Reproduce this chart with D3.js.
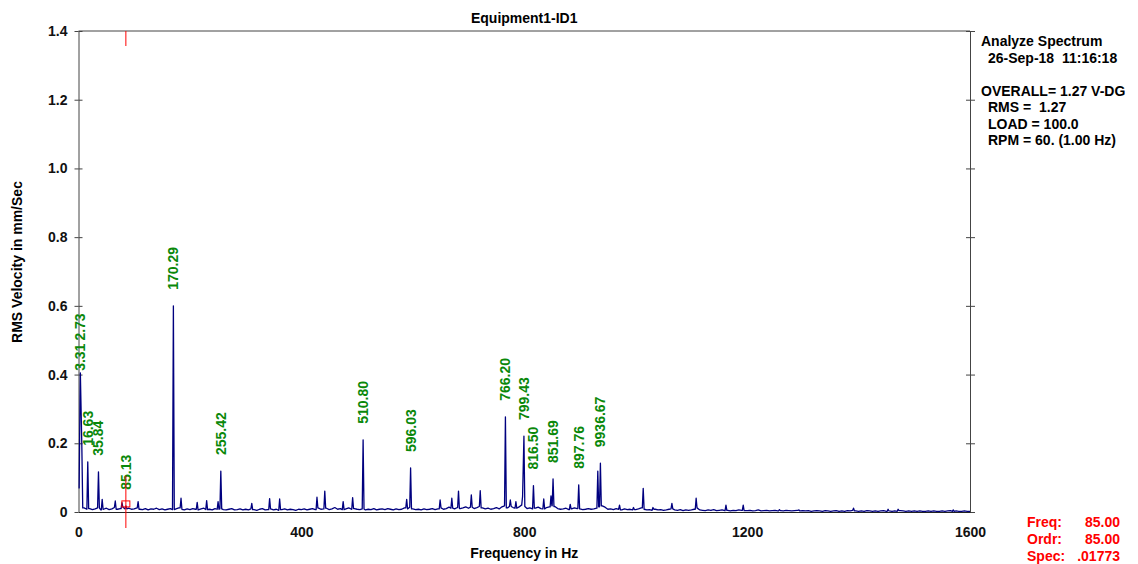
<!DOCTYPE html>
<html>
<head>
<meta charset="utf-8">
<script src="https://cdn.jsdelivr.net/npm/d3@7"></script>
<style>
  html, body { margin: 0; padding: 0; background: #fff; }
  svg { display: block; font-family: Arial, "Liberation Sans", sans-serif; }
  text { white-space: pre; }
</style>
</head>
<body>
<svg id="chart" width="1138" height="564"></svg>
<script>
// ---- spectrum data (Hz, RMS velocity in mm/Sec) ----
const peakHz = [2.73, 3.31, 6, 16.63, 35.84, 42.5, 66, 78, 85.13, 107, 170.29, 184, 213, 230, 250.5,
  255.42, 311, 343, 361, 428, 442, 475, 492, 510.80, 589, 596.03, 649, 670, 682, 705, 721, 766.20,
  775, 785, 797, 799.43, 816.50, 835, 848, 851.69, 882.5, 897.76, 932, 936.67, 971, 996, 1013.5,
  1031, 1065, 1108.5, 1162, 1193, 1258, 1293, 1391, 1453, 1471, 1570];
const peakAmp = [0.33, 0.405, 0.19, 0.146, 0.117, 0.037, 0.032, 0.027, 0.018, 0.03, 0.60, 0.04, 0.028,
  0.033, 0.03, 0.119, 0.025, 0.039, 0.038, 0.043, 0.061, 0.03, 0.042, 0.21, 0.037, 0.128, 0.035, 0.04,
  0.061, 0.05, 0.062, 0.277, 0.035, 0.03, 0.045, 0.221, 0.077, 0.038, 0.047, 0.096, 0.022, 0.079,
  0.119, 0.142, 0.02, 0.013, 0.069, 0.013, 0.025, 0.04, 0.02, 0.02, 0.007, 0.006, 0.011, 0.008,
  0.008, 0.006];

// noise floor, one value every 5 Hz from 0 to 1600 Hz, in thousandths of mm/Sec
const floorStepHz = 5;
const floorThousandths = [
  70, 260, 12, 8, 10, 7, 9, 12, 6, 8, 11, 7, 9, 13, 8, 10, 14, 9, 11, 8,
  9, 12, 8, 7, 10, 6, 9, 8, 11, 7, 9, 6, 8, 10, 7, 9, 12, 8, 6, 9,
  7, 10, 8, 6, 9, 11, 7, 8, 6, 10, 8, 9, 7, 6, 8, 10, 6, 7, 9, 6,
  8, 6, 9, 7, 5, 8, 10, 6, 7, 9, 6, 8, 5, 7, 9, 6, 8, 7, 5, 8,
  7, 9, 6, 8, 10, 7, 12, 8, 9, 11, 7, 9, 13, 8, 10, 7, 9, 12, 8, 10,
  8, 7, 9, 6, 8, 7, 10, 6, 8, 9, 7, 10, 8, 6, 9, 7, 8, 12, 9, 14,
  9, 7, 8, 6, 9, 7, 8, 10, 7, 9, 12, 8, 10, 14, 11, 9, 13, 10, 12, 15,
  11, 14, 10, 13, 16, 12, 9, 11, 8, 10, 13, 9, 15, 18, 12, 16, 13, 11, 14, 20,
  16, 10, 12, 9, 11, 14, 10, 9, 13, 15, 18, 16, 10, 8, 9, 11, 7, 9, 12, 10,
  9, 7, 8, 10, 8, 9, 11, 15, 18, 14, 8, 9, 7, 10, 8, 6, 9, 7, 8, 6,
  7, 9, 12, 8, 6, 7, 5, 8, 6, 7, 5, 6, 8, 9, 6, 5, 7, 4, 6, 5,
  6, 8, 12, 6, 5, 4, 6, 5, 7, 4, 5, 6, 4, 5, 3, 5, 4, 6, 5, 4,
  4, 5, 3, 4, 6, 3, 4, 5, 3, 4, 5, 3, 4, 3, 5, 4, 3, 4, 5, 3,
  4, 3, 4, 2, 3, 4, 3, 2, 4, 3, 2, 3, 4, 2, 3, 2, 4, 3, 5, 3,
  2, 3, 2, 4, 3, 2, 3, 2, 3, 4, 2, 3, 2, 3, 2, 4, 3, 2, 3, 2,
  3, 2, 3, 2, 2, 3, 2, 3, 2, 2, 3, 2, 3, 4, 2, 3, 2, 2, 3, 2,
  2
];

// peak markers
const labelText = ["3.31", "2.73", "16.63", "35.84", "85.13", "170.29", "255.42", "510.80", "596.03",
  "766.20", "799.43", "816.50", "851.69", "897.76", "9936.67"];
const labelHz = [3.31, 2.73, 16.63, 35.84, 85.13, 170.29, 255.42, 510.80, 596.03,
  766.20, 799.43, 816.50, 851.69, 897.76, 936.67];

// axes
const yTicks = [0, 0.2, 0.4, 0.6, 0.8, 1.0, 1.2, 1.4];
const xTicks = [0, 400, 800, 1200, 1600];

// cursor readout
const cursorHz = 85.00;
const cursorOrder = 85.00;
const cursorSpec = 0.01773;
const readoutNames = ["Freq:", "Ordr:", "Spec:"];
const readoutValues = ["85.00", "85.00", ".01773"];

// header block
const infoText = ["Analyze Spectrum", "26-Sep-18  11:16:18", "", "OVERALL= 1.27 V-DG",
  "RMS =  1.27", "LOAD = 100.0", "RPM = 60. (1.00 Hz)"];

const chartTitle = "Equipment1-ID1";
const xTitle = "Frequency in Hz";
const yTitle = "RMS Velocity in mm/Sec";

// ---- drawing ----
const svg = d3.select("#chart");
const plotL = 78.5, plotR = 970, plotT = 31, plotB = 512;
const frameColor = "#444";
const lineColor = "#00007f";
const labelColor = "#0a880a";
const cursorColor = "#ff0000";

const x = d3.scaleLinear().domain([0, 1600]).range([plotL, plotR]);
const y = d3.scaleLinear().domain([0, 1.4]).range([plotB, plotT]);

// left axis with ticks crossing the frame
const yAxis = svg.append("g")
  .attr("transform", `translate(${plotL},0)`)
  .call(d3.axisLeft(y).tickValues(yTicks).tickSizeInner(4).tickSizeOuter(0).tickPadding(7)
    .tickFormat(d => d === 0 ? "0" : d3.format(".1f")(d)));
yAxis.select(".domain").attr("stroke", frameColor);
yAxis.selectAll(".tick line").attr("stroke", frameColor).attr("x2", -4);
yAxis.selectAll(".tick").append("line").attr("x1", 0).attr("x2", 4).attr("stroke", frameColor);
yAxis.selectAll(".tick text").attr("font-size", 14).attr("font-weight", "bold").attr("fill", "#111")
  .attr("font-family", "Arial, 'Liberation Sans', sans-serif");

// right axis
const yAxisR = svg.append("g")
  .attr("transform", `translate(${plotR},0)`)
  .call(d3.axisRight(y).tickValues(yTicks).tickSizeInner(5).tickSizeOuter(0).tickFormat(""));
yAxisR.select(".domain").attr("stroke", frameColor);
yAxisR.selectAll(".tick line").attr("stroke", frameColor);
yAxisR.selectAll(".tick").append("line").attr("x1", 0).attr("x2", -4).attr("stroke", frameColor);

// top border
svg.append("line").attr("x1", plotL).attr("x2", plotR).attr("y1", plotT).attr("y2", plotT)
  .attr("stroke", frameColor);

// bottom axis
const xAxis = svg.append("g")
  .attr("transform", `translate(0,${plotB})`)
  .call(d3.axisBottom(x).tickValues(xTicks).tickSize(0).tickPadding(15).tickFormat(d3.format("d")));
xAxis.select(".domain").attr("stroke", "#222");
xAxis.selectAll(".tick text").attr("font-size", 14).attr("font-weight", "bold").attr("fill", "#111")
  .attr("font-family", "Arial, 'Liberation Sans', sans-serif");

// titles
svg.append("text").attr("x", (plotL + plotR) / 2).attr("y", 23).attr("text-anchor", "middle")
  .attr("font-size", 14).attr("font-weight", "bold").text(chartTitle);
svg.append("text").attr("x", (plotL + plotR) / 2).attr("y", 558).attr("text-anchor", "middle")
  .attr("font-size", 14).attr("font-weight", "bold").text(xTitle);
svg.append("text").attr("transform", "translate(22,262) rotate(-90)").attr("text-anchor", "middle")
  .attr("font-size", 14).attr("font-weight", "bold").text(yTitle);

// spectrum trace: each peak is one narrow spectral line standing on the noise floor
const lineHalfWidthHz = 1.6;
const floorAt = hz => floorThousandths[Math.min(floorThousandths.length - 1,
  Math.max(0, Math.round(hz / floorStepHz)))] / 1000;
const nearPeak = (hz, self) => peakHz.some(h => h !== self && Math.abs(h - hz) < lineHalfWidthHz);

const tracePts = [];
floorThousandths.forEach((v, i) => {
  const hz = i * floorStepHz;
  if (!peakHz.some(h => Math.abs(h - hz) < lineHalfWidthHz)) tracePts.push([hz, v / 1000]);
});
peakHz.forEach((hz, i) => {
  tracePts.push([hz, peakAmp[i]]);
  [-1, 1].forEach(side => {
    const foot = hz + side * lineHalfWidthHz;
    if (foot >= 0 && foot <= 1600 && !nearPeak(foot, hz)) tracePts.push([foot, floorAt(foot)]);
  });
});
tracePts.sort((a, b) => a[0] - b[0]);

svg.append("path")
  .datum(tracePts)
  .attr("fill", "none")
  .attr("stroke", lineColor)
  .attr("stroke-width", 1.3)
  .attr("stroke-linejoin", "round")
  .attr("d", d3.line().x(d => x(d[0])).y(d => y(d[1])));

// peak frequency markers, written vertically above each peak
const labelsG = svg.append("g");
let prev = null;
labelText.forEach((t, i) => {
  const hz = labelHz[i];
  const amp = peakAmp[peakHz.indexOf(hz)];
  const px = x(hz);
  const txt = labelsG.append("text")
    .attr("fill", labelColor)
    .attr("font-size", 14)
    .attr("font-weight", "bold")
    .attr("dy", "0.35em")
    .text(t);
  const len = txt.node().getComputedTextLength();
  let base = y(amp) - (t === "3.31" ? 2 : 16);
  // markers on the same spectral line are stacked one above the other
  if (prev && Math.abs(prev.x - px) < 3) base = Math.min(base, prev.top - 3);
  txt.attr("transform", `translate(${px},${base}) rotate(-90)`);
  prev = { x: px, top: base - len };
});

// cursor
const cx = x(cursorHz);
const cy = y(cursorSpec);
svg.append("line").attr("x1", cx).attr("x2", cx).attr("y1", plotT).attr("y2", plotT + 15)
  .attr("stroke", cursorColor);
svg.append("line").attr("x1", cx).attr("x2", cx).attr("y1", cy - 30).attr("y2", plotB + 16)
  .attr("stroke", cursorColor);
svg.append("rect").attr("x", cx - 4).attr("y", cy - 5).attr("width", 8).attr("height", 6)
  .attr("fill", "none").attr("stroke", cursorColor);

// header block at the top right
const infoG = svg.append("g").attr("font-size", 14).attr("font-weight", "bold").attr("fill", "#000");
infoText.forEach((t, i) => {
  if (!t) return;
  const indent = (i === 0 || i === 3) ? 981 : 988;
  infoG.append("text").attr("x", indent).attr("y", 46 + i * 16.5).text(t);
});

// cursor readout at the bottom right
const readG = svg.append("g").attr("font-size", 14).attr("font-weight", "bold").attr("fill", cursorColor);
readoutNames.forEach((n, i) => {
  readG.append("text").attr("x", 1027).attr("y", 527 + i * 17).text(n);
  readG.append("text").attr("x", 1120).attr("y", 527 + i * 17).attr("text-anchor", "end")
    .text(readoutValues[i]);
});
</script>
</body>
</html>
